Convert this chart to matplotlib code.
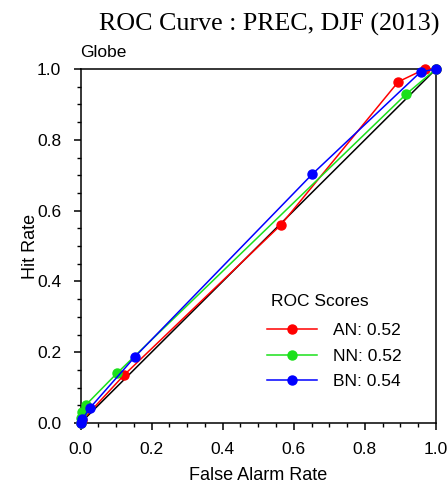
import matplotlib
matplotlib.use('Agg')
import matplotlib.pyplot as plt
from matplotlib.ticker import MultipleLocator

# ROC points (false alarm rate, hit rate)
an_far = [0.0, 0.005, 0.122, 0.563, 0.894, 0.969, 1.0]
an_hr = [0.0, 0.008, 0.135, 0.559, 0.964, 1.0, 1.0]
nn_far = [0.0, 0.002, 0.004, 0.015, 0.102, 0.916, 1.0]
nn_hr = [0.0, 0.015, 0.032, 0.051, 0.140, 0.929, 1.0]
bn_far = [0.0, 0.005, 0.027, 0.153, 0.652, 0.957, 1.0]
bn_hr = [0.0, 0.010, 0.043, 0.187, 0.703, 0.992, 1.0]

series_names = ['AN', 'NN', 'BN']
roc_scores = [0.52, 0.52, 0.54]
colors = ['red', '#1be01b', 'blue']

plt.rcParams['font.family'] = ['Liberation Sans', 'DejaVu Sans']

fig = plt.figure(figsize=(4.48, 4.87), dpi=100)
ax = fig.add_axes([0.1797, 0.1314, 0.7935, 0.7269])

ax.plot([0, 1], [0, 1], color='black', lw=1.1, zorder=1)
for far, hr, name, sc, c in zip([an_far, nn_far, bn_far], [an_hr, nn_hr, bn_hr],
                                series_names, roc_scores, colors):
    ax.plot(far, hr, '-o', color=c, lw=1.1, ms=6.5, clip_on=False,
            label=f'{name}: {sc:.2f}', zorder=3)

ax.set_xlim(0, 1); ax.set_ylim(0, 1)
ax.xaxis.set_major_locator(MultipleLocator(0.2))
ax.yaxis.set_major_locator(MultipleLocator(0.2))
ax.xaxis.set_minor_locator(MultipleLocator(0.05))
ax.yaxis.set_minor_locator(MultipleLocator(0.05))
ax.xaxis.set_major_formatter(plt.FormatStrFormatter('%.1f'))
ax.yaxis.set_major_formatter(plt.FormatStrFormatter('%.1f'))
ax.tick_params(which='major', direction='out', length=5, width=1.1,
               labelsize=12.5, pad=9, top=False, right=False)
ax.tick_params(which='minor', direction='out', length=3, width=1.0,
               top=False, right=False)
for s in ax.spines.values():
    s.set_linewidth(1.1)

ax.set_xlabel('False Alarm Rate', fontsize=13)
ax.set_ylabel('Hit Rate', fontsize=13)
ax.xaxis.set_label_coords(0.5, -0.124)
ax.yaxis.set_label_coords(-0.118, 0.5)

ax.text(0.0, 1.025, 'Globe', transform=ax.transAxes, fontsize=12.5,
        ha='left', va='bottom')
fig.text(0.982, 0.938, 'ROC Curve : PREC, DJF (2013)', ha='right',
         va='baseline', fontsize=18.7, family='Liberation Serif')

ax.text(0.536, 0.343, 'ROC Scores', transform=ax.transAxes, fontsize=12.5,
        ha='left', va='center')
leg = ax.legend(loc='center left', bbox_to_anchor=(0.524, 0.189),
                frameon=False, fontsize=12.5, borderpad=0,
                borderaxespad=0, handlelength=2.9, handletextpad=0.9,
                labelspacing=0.6, numpoints=1)

plt.savefig('out.png', dpi=100)
plt.close()
